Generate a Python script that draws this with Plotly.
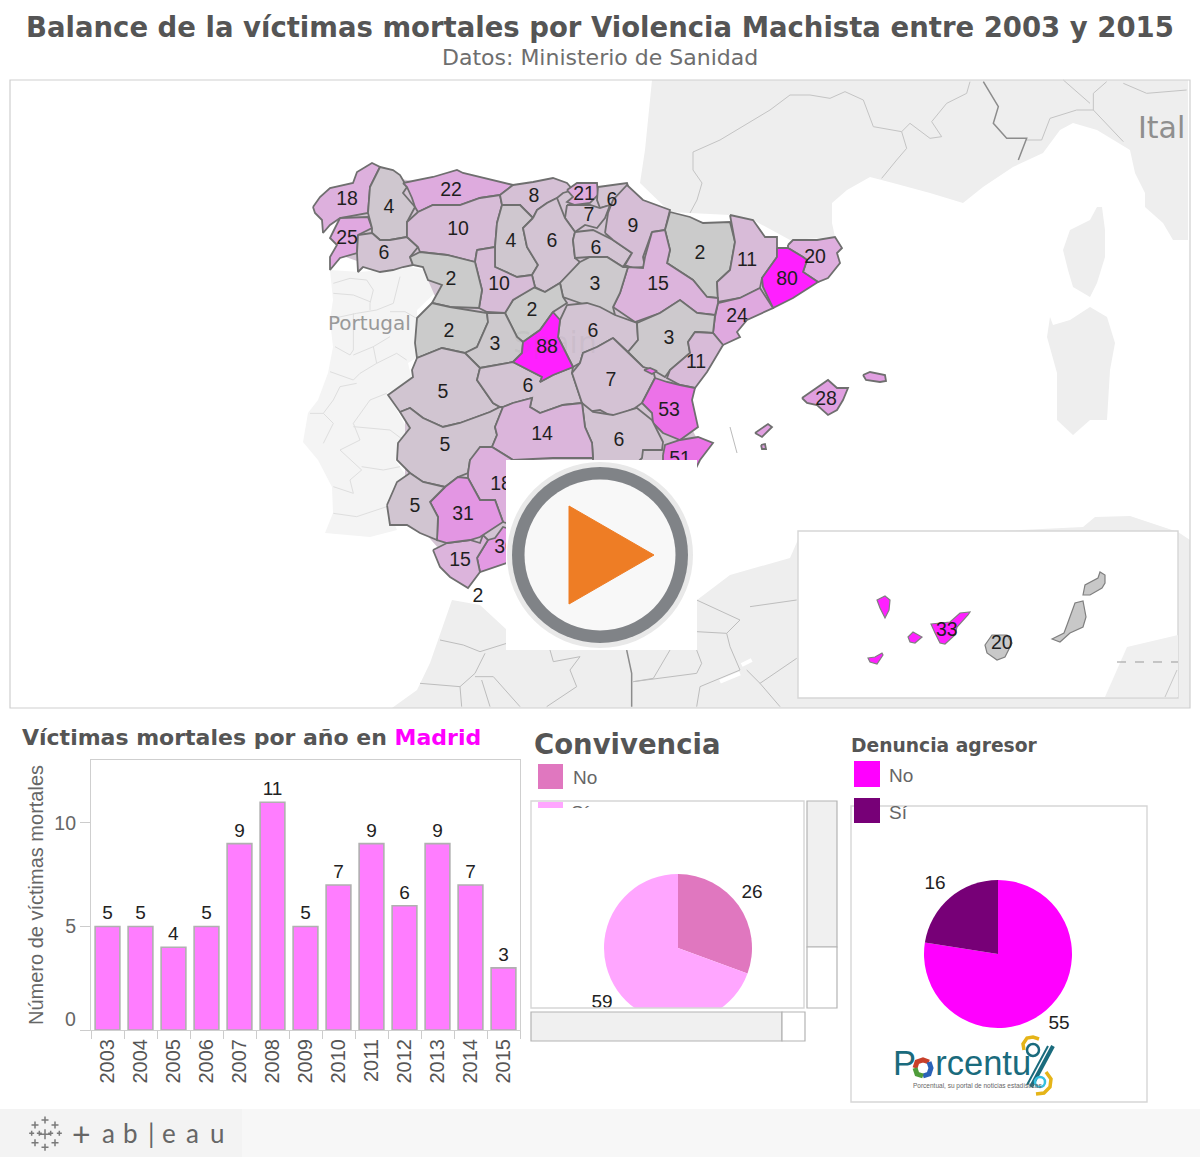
import numpy as np
import plotly.graph_objects as go

W, H = 1200, 1157

# ---------- data ----------
years = ["2003","2004","2005","2006","2007","2008","2009","2010","2011","2012","2013","2014","2015"]
madrid_deaths = [5,5,4,5,9,11,5,7,9,6,9,7,3]
convivencia_labels = ["No","Sí"]
convivencia_values = [26,59]
convivencia_label_x = [752,602]
convivencia_label_y = [893,1003]
denuncia_labels = ["No","Sí"]
denuncia_values = [55,16]
denuncia_label_x = [1059,935]
denuncia_label_y = [1024,884]

province_names = ["A Coruña","Pontevedra","Lugo","Ourense","Asturias","León","Cantabria","Bizkaia","Gipuzkoa","Álava",
 "Palencia","Burgos","La Rioja","Navarra","Huesca","Lleida","Girona","Barcelona","Tarragona","Zaragoza","Soria","Segovia",
 "Valladolid","Zamora","Salamanca","Ávila","Cáceres","Badajoz","Toledo","Guadalajara","Teruel","Castellón","Cuenca","Valencia",
 "Ademuz","Alicante","Albacete","Ciudad Real","Córdoba","Málaga","Cádiz","Sevilla","Huelva","Mallorca","Menorca","Ibiza","Formentera","Madrid"]
province_values = [18,25,4,6,22,10,8,21,6,7,4,6,6,9,2,11,20,80,24,15,3,2,10,2,2,3,5,5,6,6,3,11,7,53,53,51,6,14,18,30,15,31,5,28,28,28,28,88]
province_outlines = [
 [(313,207),(320,197),(330,188),(353,183),(357,172),(372,163),(380,167),(370,187),(368,213),(340,218),(330,225),(323,233),(322,220),(315,213)],
 [(340,218),(368,217),(372,228),(358,235),(357,253),(340,258),(330,270),(330,257),(337,245),(330,238),(335,228)],
 [(380,167),(393,170),(400,175),(407,187),(403,193),(415,207),(407,222),(407,237),(390,240),(380,240),(372,233),(372,228),(368,213),(370,187)],
 [(358,235),(372,233),(380,240),(390,240),(407,237),(418,247),(410,257),(413,265),(403,267),(393,270),(380,272),(363,267),(358,272),(357,253)],
 [(403,183),(433,177),(457,170),(463,173),(513,185),(500,195),(480,198),(460,205),(433,205),(418,212),(415,207),(412,198),(407,187)],
 [(418,212),(433,205),(460,205),(480,198),(500,195),(502,205),(497,223),(495,247),(477,250),(475,262),(447,255),(420,252),(418,247),(407,237),(407,222)],
 [(513,185),(533,182),(553,178),(567,183),(573,190),(563,193),(557,198),(547,203),(537,210),(533,218),(520,205),(502,205),(500,195)],
 [(567,190),(577,183),(597,183),(598,195),(590,203),(575,205),(567,202),(573,197)],
 [(598,187),(627,183),(630,192),(610,205),(600,208),(597,200)],
 [(567,205),(590,205),(600,208),(610,205),(605,218),(597,228),(585,225),(575,232),(565,218)],
 [(502,205),(520,205),(533,218),(523,228),(527,247),(538,265),(532,275),(517,277),(495,267),(495,247),(497,223)],
 [(533,218),(537,210),(547,203),(557,198),(565,218),(575,232),(573,240),(575,258),(580,262),(560,283),(545,292),(535,287),(532,275),(538,265),(527,247),(523,228)],
 [(575,232),(593,230),(613,240),(632,253),(623,267),(607,257),(590,257),(575,258),(573,240)],
 [(605,233),(608,213),(613,200),(627,185),(643,200),(670,210),(665,230),(652,232),(643,257),(645,267),(633,268),(625,265),(632,253),(613,240)],
 [(670,212),(690,217),(703,223),(730,222),(735,242),(730,270),(717,282),(718,298),(707,297),(693,280),(667,263),(670,250),(665,230)],
 [(730,215),(753,220),(765,237),(777,237),(777,257),(762,278),(760,288),(740,298),(718,302),(717,282),(730,270),(735,242)],
 [(788,245),(793,240),(817,240),(835,237),(842,248),(837,253),(840,263),(828,278),(818,282),(803,272),(807,260),(803,257),(788,248)],
 [(777,248),(788,248),(803,257),(807,260),(803,272),(818,282),(793,298),(773,308),(763,287),(762,278),(777,257)],
 [(760,288),(773,308),(747,320),(737,332),(740,337),(723,345),(713,333),(715,317),(718,303),(740,298)],
 [(652,232),(665,230),(670,250),(667,263),(693,280),(707,297),(718,298),(718,303),(715,315),(697,313),(680,300),(660,313),(635,322),(613,307),(620,293),(628,267),(643,268),(645,257)],
 [(580,262),(590,257),(607,257),(623,267),(628,267),(620,293),(613,307),(615,315),(597,310),(580,303),(563,297),(560,283)],
 [(533,287),(545,292),(560,283),(563,297),(567,303),(553,312),(540,330),(523,342),(517,337),(505,313),(513,300)],
 [(477,250),(495,247),(495,267),(517,277),(532,275),(535,287),(513,300),(505,313),(487,312),(479,308),(482,290),(475,262)],
 [(410,257),(420,252),(447,255),(475,262),(482,290),(479,308),(450,307),(432,303),(442,285),(428,280),(423,267),(413,265)],
 [(432,303),(450,307),(487,313),(488,322),(477,347),(465,353),(442,348),(417,358),(415,343),(417,318)],
 [(487,313),(505,313),(517,337),(523,342),(522,353),(513,362),(497,365),(480,368),(465,353),(477,347),(488,322)],
 [(417,358),(442,348),(465,353),(480,368),(477,380),(493,403),(500,407),(490,412),(460,423),(443,427),(423,418),(410,408),(400,412),(388,395),(413,377),(412,370)],
 [(400,412),(410,408),(423,418),(443,427),(460,423),(490,412),(500,407),(503,407),(495,427),(497,435),(492,447),(470,460),(468,473),(458,477),(445,487),(423,482),(410,473),(397,460),(398,443),(410,428)],
 [(480,368),(497,365),(513,362),(542,377),(540,382),(553,375),(573,367),(572,373),(582,403),(563,405),(540,413),(530,407),(532,398),(513,403),(503,407),(500,407),(493,403),(477,380)],
 [(560,320),(567,305),(587,303),(600,307),(615,315),(637,323),(638,340),(628,352),(613,338),(597,347),(583,353),(580,363),(573,367),(558,337)],
 [(637,323),(660,313),(680,300),(697,313),(715,315),(713,333),(695,332),(688,342),(690,353),(670,370),(665,377),(653,370),(643,367),(628,352),(638,340)],
 [(695,332),(713,333),(723,345),(707,372),(695,388),(680,385),(667,378),(670,370),(690,353),(688,342)],
 [(613,338),(628,352),(643,367),(653,370),(655,378),(642,403),(635,408),(613,417),(600,410),(587,412),(582,403),(572,373),(580,363),(583,353),(597,347)],
 [(655,378),(667,382),(680,385),(695,388),(692,400),(698,427),(680,440),(663,433),(653,423),(652,413),(642,403)],
 [(644,370),(650,368),(657,371),(652,374)],
 [(663,455),(665,445),(680,440),(698,437),(713,443),(700,460),(690,480),(675,480),(663,470)],
 [(582,403),(593,412),(613,415),(637,408),(652,420),(663,442),(662,450),(643,450),(642,458),(630,470),(593,470),(593,458),(592,443),(585,427)],
 [(503,407),(513,403),(532,398),(530,407),(540,413),(563,405),(582,403),(585,427),(592,443),(593,458),(553,458),(513,460),(492,447),(497,435),(495,427)],
 [(470,460),(480,447),(492,447),(513,460),(530,460),(530,530),(503,522),(495,500),(480,500),(468,478),(468,473)],
 [(477,558),(488,540),(495,538),(503,527),(513,530),(537,560),(507,563),(480,572)],
 [(433,550),(447,543),(470,540),(480,543),(483,535),(488,540),(477,558),(480,572),(468,588),(450,577),(440,567)],
 [(430,502),(445,487),(458,477),(468,478),(480,500),(495,500),(503,522),(480,537),(470,540),(447,543),(437,540),(438,517)],
 [(387,505),(397,482),(410,473),(423,482),(445,487),(430,502),(438,517),(437,540),(420,533),(407,525),(390,525)],
 [(802,398),(813,390),(828,380),(837,388),(848,388),(843,400),(837,410),(828,415),(817,405),(807,403)],
 [(863,375),(870,372),(885,375),(886,381),(880,382),(866,380)],
 [(755,433),(768,424),(772,427),(762,437)],
 [(761,445),(765,444),(766,449),(762,449)],
 [(553,312),(560,320),(558,337),(573,367),(553,375),(540,382),(542,377),(513,362),(522,353),(523,342),(540,330)],
]
peninsula_outline = [(340,200),(380,175),(433,185),(513,192),(597,192),(670,218),(730,225),(770,250),(830,255),(810,275),(770,300),(725,335),(690,385),(690,425),(700,445),(680,470),(530,550),(480,565),(440,550),(400,505),(405,480),(405,420),(395,395),(418,372),(425,358),(425,318),(438,303),(420,262),(360,262),(340,255)]
map_label_values = [18,22,8,21,6,4,10,7,9,25,6,4,6,6,2,11,20,2,10,3,15,80,2,24,2,3,88,6,3,11,5,6,7,28,53,14,6,5,51,18,5,31,30,15,2]
map_label_x = [347,451,534,584,612,389,458,589,633,347,384,511,552,596,700,747,815,451,499,595,658,787,532,737,449,495,547,593,669,696,443,528,611,826,669,542,619,445,680,501,415,463,505,460,478]
map_label_y = [199,190,196,194,200,207,229,215,226,238,253,241,241,248,253,260,257,279,284,284,284,279,310,316,331,344,347,331,338,362,392,386,380,399,410,434,440,445,459,484,506,514,547,560,596]

island_values = [33,33,33,33,20,20,20]
island_outlines = [
 [(877,600),(885,596),(890,600),(889,610),(885,618),(880,608)],
 [(908,637),(913,632),(922,637),(915,643),(910,642)],
 [(868,658),(875,657),(882,653),(883,655),(877,664),(870,662)],
 [(931,624),(950,622),(960,613),(970,612),(968,615),(957,627),(955,635),(945,644),(940,643),(935,633)],
 [(985,645),(992,635),(1007,635),(1012,643),(1005,657),(997,660),(987,653)],
 [(1052,639),(1064,633),(1067,625),(1075,603),(1083,601),(1086,617),(1083,627),(1070,633),(1060,642)],
 [(1083,595),(1085,585),(1098,578),(1100,572),(1105,575),(1105,583),(1102,588),(1090,595)],
]
island_label_values = [33,20]
island_label_x = [947,1002]
island_label_y = [629,642]

land_outlines = [
 [(652,80),(645,150),(640,183),(670,212),(730,215),(753,220),(790,240),(835,237),(832,223),(832,203),(847,190),(870,177),(893,183),(930,193),(963,203),(983,187),(1013,167),(1043,153),(1060,130),(1073,123),(1097,130),(1130,150),(1135,173),(1145,193),(1145,207),(1163,223),(1173,240),(1188,240),(1188,80)],
 [(1097,207),(1102,207),(1105,230),(1105,257),(1097,283),(1090,297),(1073,287),(1068,270),(1063,250),(1070,230),(1090,220)],
 [(1050,317),(1053,325),(1070,320),(1090,307),(1107,317),(1115,343),(1110,370),(1107,420),(1090,420),(1073,435),(1057,420),(1057,373),(1047,337)],
 [(392,708),(417,690),(430,663),(452,600),(480,605),(507,630),(600,650),(697,640),(697,600),(730,575),(790,558),(800,535),(900,531),(1000,531),(1083,527),(1095,517),(1130,516),(1178,532),(1190,540),(1190,708)],
]
portugal_outline = [(330,270),(333,300),(330,320),(333,347),(328,373),(318,400),(308,413),(303,442),(318,460),(332,487),(333,513),(325,533),(370,537),(397,530),(387,507),(407,477),(395,460),(408,430),(387,393),(412,380),(408,363),(418,357),(417,310),(438,290),(427,270),(410,267),(360,272)]
portugal_lines = [
 [(130,70),(180,55),(230,60),(250,90),(240,130),(240,150)],[(130,100),(190,105),(240,125)],
 [(330,50),(310,130),(260,150),(200,160),(130,175)],[(190,160),(190,270),(180,285),(135,260)],
 [(380,175),(345,155),(300,155)],[(300,230),(250,260),(190,285)],[(250,260),(260,310),(320,280),(350,300)],
 [(260,310),(210,340),(190,360),(120,335)],[(200,370),(150,380),(130,420),(100,460),(60,460)],
 [(100,460),(130,490),(100,550)],[(290,400),(240,420),(190,490),(210,540),(150,570),(215,630),(180,660),(190,700),(130,680)],
 [(190,500),(300,510),(340,540)],[(215,620),(280,630),(330,620)],[(130,760),(200,770),(290,740)],
]
france_lines = [
 [(0,55),(45,35),(100,60),(130,140),(215,155),(230,205),(200,240),(155,295)],
 [(215,155),(240,130),(300,175),(335,170),(305,125),(350,70),(410,40),(420,5)],
 [(590,180),(635,180),(660,115),(740,90),(790,90),(880,185)],[(790,90),(790,40),(830,5)],
 [(700,0),(780,70)],[(880,10),(950,40),(1070,30)],
 [(-411,216),(-411,270),(-384,309),(-399,360),(-420,399)],
 [(-411,216),(-330,180),(-255,135),(-180,90),(-120,45),(-60,45),(0,55)],
]
france_dark_line = [(460,5),(505,80),(490,130),(530,175),(590,175),(565,240)]
africa_lines = [
 [(180,150),(250,165),(300,185),(380,160)],[(315,190),(285,250),(240,290),(120,280)],[(240,290),(245,350)],
 [(285,260),(340,260),(420,350)],[(305,270),(330,350)],[(510,180),(520,215),(600,200),(570,240),(590,290),(500,350)],
 [(870,180),(820,265),(760,275),(950,250),(965,220),(950,180)],[(950,350),(960,290),(1080,240),(1050,170),(1040,130),(950,125)],
 [(950,30),(1040,70),(1080,90),(1040,130)],[(1110,50),(1250,30)],[(1100,240),(1140,280),(1200,350)],[(1140,280),(1250,205)],
]
africa_dark_line = [(740,180),(755,250),(755,350)]
inset_africa = [(1105,697),(1127,647),(1178,635),(1178,697)]

# ---------- helpers ----------
def fx(a, b): return [a/W, b/W]
def fy(top, bot): return [1-bot/H, 1-top/H]

stops_v = [2,6,15,25,35,53,80,88]
stops_c = [(203,203,203),(211,196,211),(220,180,220),(224,168,224),(230,138,230),(236,114,232),(255,32,255),(255,32,255)]
def colour(v):
    return "rgb(%d,%d,%d)" % tuple(np.interp(v, stops_v, [c[i] for c in stops_c]) for i in range(3))

fig = go.Figure()

def poly(pts, fill, line="rgba(0,0,0,0)", lw=0, name=""):
    xs = [p[0] for p in pts]+[pts[0][0]]
    ys = [p[1] for p in pts]+[pts[0][1]]
    fig.add_trace(go.Scatter(x=xs, y=ys, mode="lines", fill="toself", fillcolor=fill,
        line=dict(color=line, width=lw), hoverinfo="skip", name=name, showlegend=False))

def polyline(pts, color, lw, dash=None):
    fig.add_trace(go.Scatter(x=[p[0] for p in pts], y=[p[1] for p in pts], mode="lines",
        line=dict(color=color, width=lw, dash=dash), hoverinfo="skip", showlegend=False))

def crop(pts, ox, oy):
    return [(ox+x/3, oy+y/3) for x, y in pts]

def page_text(xs, ys, labels, size, color, family="Liberation Sans", pos="middle center"):
    fig.add_trace(go.Scatter(x=xs, y=ys, mode="text", text=labels, textposition=pos,
        textfont=dict(family=family, size=size, color=color), hoverinfo="skip", showlegend=False))

# background land
for o in land_outlines:
    poly(o, "#eeeeee")
poly(portugal_outline, "#f4f4f4")
for l in portugal_lines:
    polyline(crop(l, 290, 260), "#dedede", 1)
for l in france_lines:
    polyline(crop(l, 830, 80), "#c4c4c4", 1)
polyline(crop(france_dark_line, 830, 80), "#8c8c8c", 1.5)
for l in africa_lines:
    polyline(crop(l, 380, 590), "#bdbdbd", 1)
polyline(crop(africa_dark_line, 380, 590), "#8c8c8c", 1.5)
polyline(crop([(1020,275),(1080,250)], 380, 590), "#ffffff", 4)
polyline(crop([(1085,225),(1115,210)], 380, 590), "#ffffff", 4)
polyline([(730,427),(737,453)], "#bbbbbb", 1)

# place names under the provinces
page_text([328], [325], ["Portugal"], 20, "#999999", "DejaVu Sans", "middle right")
page_text([1138], [130], ["Ital"], 30, "#8f8f8f", "DejaVu Sans", "middle right")

# provinces
poly(peninsula_outline, "#d3c4d3")
for n, v, o in zip(province_names, province_values, province_outlines):
    poly(o, colour(v), "#6f6f6f", 1.8, n)
page_text([555], [345], ["Spain"], 30, "rgba(130,130,130,0.10)", "DejaVu Sans")
page_text(map_label_x, [y+1.5 for y in map_label_y], [str(v) for v in map_label_values], 19.5, "#1f1f1f")

# legend "Sí" of Convivencia, cut by the view below it
page_text([571], [814], ["Sí"], 19, "#666666", pos="middle right")

# pie value labels, cut by the view where the reference cuts them
page_text(convivencia_label_x, convivencia_label_y, [str(v) for v in convivencia_values], 19, "#222222")
page_text(denuncia_label_x, denuncia_label_y, [str(v) for v in denuncia_values], 19, "#222222")

# bar chart
fig.add_trace(go.Bar(x=years, y=madrid_deaths, text=madrid_deaths, textposition="outside", cliponaxis=False,
    textangle=0, textfont=dict(family="Liberation Sans", size=19, color="#222222"),
    marker=dict(color="#ff7dff", line=dict(color="#b0b0b0", width=1.6)), width=0.75,
    xaxis="x2", yaxis="y2", hoverinfo="skip", showlegend=False))

# pies
fig.add_trace(go.Pie(labels=convivencia_labels, values=convivencia_values, sort=False, direction="clockwise", rotation=0,
    marker=dict(colors=["#e077bf","#ffa6ff"], line=dict(width=0)), textinfo="none",
    domain=dict(x=fx(604,752), y=fy(874,1022)), showlegend=False, hoverinfo="skip"))
fig.add_trace(go.Pie(labels=denuncia_labels, values=denuncia_values, sort=False, direction="clockwise", rotation=0,
    marker=dict(colors=["#ff00ff","#770077"], line=dict(width=0)), textinfo="none",
    domain=dict(x=fx(924,1072), y=fy(880,1028)), showlegend=False, hoverinfo="skip"))

# shapes
def rect(x0, y0, x1, y1, fill="rgba(0,0,0,0)", line="rgba(0,0,0,0)", lw=0, layer="above"):
    return dict(type="rect", xref="x", yref="y", x0=x0, y0=y0, x1=x1, y1=y1, fillcolor=fill,
                line=dict(color=line, width=lw), layer=layer)
def circle(cx, cy, r, fill="rgba(0,0,0,0)", line="rgba(0,0,0,0)", lw=0):
    return dict(type="circle", xref="x", yref="y", x0=cx-r, y0=cy-r, x1=cx+r, y1=cy+r, fillcolor=fill,
                line=dict(color=line, width=lw), layer="above")
def path(pts):
    return "M" + " L".join("%g,%g" % p for p in pts) + " Z"
def open_path(pts):
    return "M" + " L".join("%g,%g" % p for p in pts)

shapes = [
 rect(10, 80, 1190, 708, line="#cfcfcf", lw=1.2),
 # play button
 rect(506, 460, 697, 650, "#ffffff"),
 circle(600, 555, 93, "#e9e9e9"),
 circle(600, 555, 88, "#808387"),
 circle(600, 555, 75.5, "#f8f8f8"),
 dict(type="path", xref="x", yref="y", path="M569,506 L654,555 L569,604 Z", fillcolor="#ee7d25",
      line=dict(color="#ee7d25", width=1), layer="above"),
 # Convivencia legend and view
 rect(538, 764, 563, 789, "#e077bf"),
 rect(532, 808, 700, 830, "#ffffff"),
 rect(531, 1008, 810, 1045, "#ffffff"),
 rect(531, 801, 804, 1008, line="#d6d6d6", lw=1.4),
 rect(538, 802, 563, 808, "#ffa6ff"),
 rect(807, 801, 837, 947, "#f0f0f0", "#b4b4b4", 1.2),
 rect(807, 947, 837, 1008, "#ffffff", "#b4b4b4", 1.2),
 rect(531, 1012, 782, 1041, "#f0f0f0", "#b4b4b4", 1.2),
 rect(782, 1012, 805, 1041, "#ffffff", "#b4b4b4", 1.2),
 # Denuncia legend and view
 rect(851, 806, 1147, 1102, line="#d6d6d6", lw=1.4),
 rect(854, 761, 880, 787, "#ff00ff"),
 rect(854, 798, 880, 823, "#770077"),
 # footer
 rect(0, 1109, 1200, 1157, "#f7f7f7"),
 rect(0, 1109, 242, 1157, "#f3f3f3"),
 # inset
 rect(798, 531, 1178, 698, "#ffffff", "#d6d6d6", 1.4),
 dict(type="path", xref="x", yref="y", path=path(inset_africa), fillcolor="#f0f0f0", line=dict(width=0), layer="above"),
 dict(type="path", xref="x", yref="y", path=open_path([(1117,662),(1178,662)]), line=dict(color="#999999", width=1, dash="dash"), layer="above"),
 dict(type="path", xref="x", yref="y", path=open_path([(1177,670),(1165,697)]), line=dict(color="#c8c8c8", width=1), layer="above"),
]
for v, o in zip(island_values, island_outlines):
    c = "#ff20ff" if v == 33 else "#c8c8c8"
    shapes.append(dict(type="path", xref="x", yref="y", path=path(o), fillcolor=c, line=dict(color="#7f7f7f", width=1.2), layer="above"))

# logo marks
logo = [
 ([(915,1068),(917,1062),(923,1060),(929,1062)], "#c8402a", 5),
 ([(929,1062),(931,1068),(929,1074),(923,1076)], "#2a62b8", 5),
 ([(923,1076),(917,1074),(915,1068)], "#4f9c3a", 5),
 ([(1024,1050),(1023,1044),(1027,1038),(1033,1037),(1039,1039)], "#e5b418", 3.5),
 ([(1053,1046),(1031,1087)], "#1a6b7d", 4),
 ([(1048,1046),(1027,1085)], "#1a6b7d", 2),
 ([(1046,1072),(1051,1079),(1050,1087),(1044,1093),(1036,1094)], "#e5b418", 3.5),
]
for pts, c, lw in logo:
    shapes.append(dict(type="path", xref="x", yref="y", path=open_path(pts), line=dict(color=c, width=lw), layer="above"))
shapes.append(circle(1033, 1050, 6, line="#1a6b7d", lw=2.5))
shapes.append(circle(1040, 1082, 5, line="#35bfe0", lw=2.5))

# Tableau mark
tab_x = [135,135,135,105,165,105,165,95,178,118,152]
tab_y = [133,90,172,105,105,158,158,130,130,130,130]
tab_s = [5,3.5,3.5,3.5,3.5,3.5,3.5,2.5,2.5,2.5,2.5]
for x, y, s in zip(tab_x, tab_y, tab_s):
    cx, cy = x/3, 1090+y/3
    shapes.append(dict(type="path", xref="x", yref="y", path="M%g,%g L%g,%g M%g,%g L%g,%g" % (cx-s,cy,cx+s,cy,cx,cy-s,cx,cy+s),
                      line=dict(color="#7a7a7a", width=1.5), layer="above"))

annotations = []
def txt(x, y, s, size, color="#666666", family="DejaVu Sans", anchor="left", bold=False):
    if bold: s = "<b>%s</b>" % s
    annotations.append(dict(xref="x", yref="y", x=x-2 if anchor == "left" else x, y=y, text=s, showarrow=False,
        xanchor=anchor, yanchor="middle", font=dict(family=family, size=size, color=color), align="left"))

txt(599.5, 27, "Balance de la víctimas mortales por Violencia Machista entre 2003 y 2015", 27.5, "#555555", anchor="center", bold=True)
txt(599.5, 57, "Datos: Ministerio de Sanidad", 22, "#6e6e6e", anchor="center")
txt(22, 737, "Víctimas mortales por año en <span style='color:#ff00ff'>Madrid</span>", 22, "#555555", bold=True)
txt(534, 744, "Convivencia", 27.5, "#555555", bold=True)
txt(851, 745, "Denuncia agresor", 18.7, "#555555", bold=True)
txt(573, 777, "No", 19, family="Liberation Sans")
txt(889, 775, "No", 19, family="Liberation Sans")
txt(889, 812, "Sí", 19, family="Liberation Sans")
txt(78, 1019, "0", 19.5, family="Liberation Sans", anchor="right")
# island labels go above the inset
for v, x, y in zip(island_label_values, island_label_x, island_label_y):
    txt(x, y, str(v), 19.5, "#1f1f1f", "Liberation Sans", "center")
# footer wordmark
for s, x in zip(["+","a","b","|","e","a","u"], [81,108,130,151,169,192,217]):
    txt(x, 1133, s, 32 if s == "+" else 26, "#666666", "Lato", "center")
# logo text
txt(893, 1063, "P<span style='color:rgba(0,0,0,0)'>o</span>rcentu", 34.5, "#1a6b7d", "Liberation Sans")
txt(913, 1086, "Porcentual, su portal de noticias estadísticas", 6.5, "#666666", "Liberation Sans")

fig.update_layout(
    shapes=shapes,
    annotations=annotations,
    width=W, height=H, margin=dict(l=0, r=0, t=0, b=0), autosize=False,
    paper_bgcolor="#ffffff", plot_bgcolor="rgba(0,0,0,0)", showlegend=False,
    xaxis=dict(domain=[0,1], range=[0,W], visible=False, fixedrange=True),
    yaxis=dict(domain=[0,1], range=[H,0], visible=False, fixedrange=True),
    xaxis2=dict(domain=fx(91,520), type="category", anchor="y2", tickson="boundaries", ticks="outside", ticklen=8,
        tickcolor="#cccccc", tickangle=-90, tickfont=dict(family="Liberation Sans", size=20, color="#555555"),
        showline=True, linecolor="#cfcfcf", linewidth=1.2, mirror=True, showgrid=False, fixedrange=True),
    yaxis2=dict(domain=fy(760,1030), range=[0,13.04], anchor="x2", tickmode="array", tickvals=[0,5,10], ticktext=["","5","10"],
        ticks="outside", ticklen=10, tickcolor="#cccccc", tickfont=dict(family="Liberation Sans", size=19.5, color="#666666"),
        showline=True, linecolor="#cfcfcf", linewidth=1.2, mirror=True, showgrid=False, zeroline=False, fixedrange=True,
        title=dict(text="Número de víctimas mortales", font=dict(family="Liberation Sans", size=20, color="#666666"), standoff=5)),
)

fig.write_html("out.html", include_plotlyjs=True, config=dict(displayModeBar=False),
               post_script="document.body.style.margin='0';document.body.style.overflow='hidden';")
